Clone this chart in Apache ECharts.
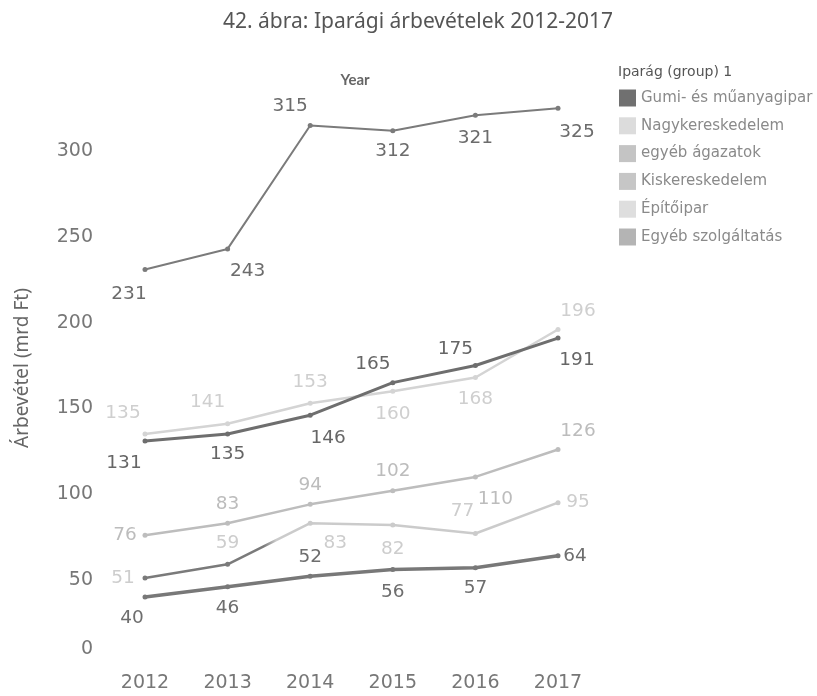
<!DOCTYPE html>
<html>
<head>
<meta charset="utf-8">
<script src="https://cdn.jsdelivr.net/npm/echarts@6/dist/echarts.min.js"></script>
<style>
html,body{margin:0;padding:0;background:#fff;}
#chart{width:817px;height:696px;}
</style>
</head>
<body>
<div id="chart"></div>
<script>
// ---- data ----
const years = ['2012', '2013', '2014', '2015', '2016', '2017'];
const seriesNames = ['Gumi- és műanyagipar', 'Nagykereskedelem', 'egyéb ágazatok', 'Kiskereskedelem', 'Építőipar', 'Egyéb szolgáltatás'];
const gumi = [231, 243, 315, 312, 321, 325];
const nagyker = [135, 141, 153, 160, 168, 196];
const egyebAgazatok = [76, 83, 94, 102, 110, 126];
const kisker = [131, 135, 146, 165, 175, 191];
const epitoipar = [51, 59, 83, 82, 77, 95];
const egyebSzolg = [40, 46, 52, 56, 57, 64];
const yTicks = [0, 50, 100, 150, 200, 250, 300];

// ---- styles (label offsets relative to point) ----
const epitoLine = new echarts.graphic.LinearGradient(0, 0, 1, 0, [
  {offset: 0, color: '#7a7a7a'}, {offset: 0.29, color: '#7a7a7a'},
  {offset: 0.32, color: '#cbcbcb'}, {offset: 1, color: '#cbcbcb'}
]);
const styles = [
  {data: gumi, line: '#7b7b7b', label: '#6c6c6c', width: 2, legend: '#707070',
   off: [[-16, 25], [20, 22], [-20, -19], [0, 21], [0, 23], [19, 24]]},
  {data: nagyker, line: '#d4d4d4', label: '#cfcfcf', width: 2.5, legend: '#dcdcdc',
   off: [[-22, -21], [-20, -22], [0, -21], [0, 23], [0, 22], [20, -18]]},
  {data: egyebAgazatok, line: '#bdbdbd', label: '#bcbcbc', width: 2.5, legend: '#c4c4c4',
   off: [[-20, 0], [0, -19], [0, -19], [0, -19], [20, 22], [20, -18]]},
  {data: kisker, line: '#6e6e6e', label: '#666666', width: 3, legend: '#c6c6c6',
   off: [[-21, 22], [0, 20], [18, 23], [-20, -18], [-20, -16], [19, 22]]},
  {data: epitoipar, line: epitoLine, point: ['#7a7a7a', '#7a7a7a', '#cbcbcb', '#cbcbcb', '#cbcbcb', '#cbcbcb'],
   label: '#cdcdcd', width: 2.5, legend: '#dedede',
   off: [[-22, 0], [0, -21], [25, 20], [0, 24], [-13, -22], [20, 0]]},
  {data: egyebSzolg, line: '#787878', label: '#6e6e6e', width: 3.5, legend: '#b4b4b4',
   off: [[-13, 21], [0, 22], [0, -19], [0, 23], [0, 20], [17, 0]]}
];

const FONT = '"DejaVu Sans", Verdana, sans-serif';

const series = styles.map((s, si) => ({
  name: seriesNames[si],
  type: 'line',
  data: s.data.map((v, i) => {
    const d = {value: v, label: {offset: s.off[i]}};
    if (s.point) d.itemStyle = {color: s.point[i]};
    return d;
  }),
  symbol: 'circle',
  symbolSize: 5,
  lineStyle: {color: s.line, width: s.width},
  itemStyle: {color: s.point ? '#cbcbcb' : s.line},
  label: {
    show: true,
    position: 'inside',
    color: s.label,
    fontFamily: FONT,
    fontSize: 18.5,
    align: 'center',
    verticalAlign: 'middle'
  },
  emphasis: {disabled: true},
  z: 2 + si
}));

const chart = echarts.init(document.getElementById('chart'), null, {renderer: 'canvas'});
chart.setOption({
  animation: false,
  backgroundColor: '#ffffff',
  title: [{
    text: '42. ábra: Iparági árbevételek 2012-2017',
    left: 413, top: 7, textAlign: 'center',
    textStyle: {fontFamily: '"Noto Sans", sans-serif', fontSize: 21, fontWeight: 'normal', color: '#555'}
  }, {
    text: 'Year',
    left: 350, top: 68, textAlign: 'center',
    textStyle: {fontFamily: 'Lato, sans-serif', fontSize: 15, fontWeight: 'bold', color: '#666'}
  }, {
    text: 'Iparág (group) 1',
    left: 613, top: 60,
    textStyle: {fontFamily: '"DejaVu Sans", sans-serif', fontSize: 14, fontWeight: 'normal', color: '#555'}
  }],
  graphic: [{
    type: 'text',
    x: 13, y: 368,
    rotation: Math.PI / 2,
    style: {
      text: 'Árbevétel (mrd Ft)',
      fontFamily: '"Noto Sans", sans-serif',
      fontSize: 19,
      fill: '#666',
      align: 'center',
      verticalAlign: 'top'
    }
  }],
  legend: {
    orient: 'vertical',
    left: 614, top: 84.5,
    itemWidth: 17, itemHeight: 17, itemGap: 10.8,
    icon: 'rect',
    selectedMode: false,
    data: seriesNames.map((n, i) => ({name: n, itemStyle: {color: styles[i].legend}})),
    textStyle: {fontFamily: FONT, fontSize: 15, color: '#8a8a8a'}
  },
  grid: {left: 145, right: 259, top: 65.5, bottom: 30.5},
  xAxis: {
    type: 'category',
    data: years,
    boundaryGap: false,
    axisLine: {show: false},
    axisTick: {show: false},
    axisLabel: {margin: 8, color: '#777', fontFamily: FONT, fontSize: 19}
  },
  yAxis: {
    type: 'value',
    min: 0, max: 350, interval: 50,
    axisLine: {show: false},
    axisTick: {show: false},
    splitLine: {show: false},
    axisLabel: {
      margin: 52, color: '#777', fontFamily: FONT, fontSize: 19,
      formatter: v => (v === 0 ? '{z|0}' : (yTicks.indexOf(v) >= 0 ? String(v) : '')),
      rich: {z: {color: '#777', fontFamily: FONT, fontSize: 19, padding: [0, 0, 32, 0]}}
    }
  },
  series: series
});
</script>
</body>
</html>
